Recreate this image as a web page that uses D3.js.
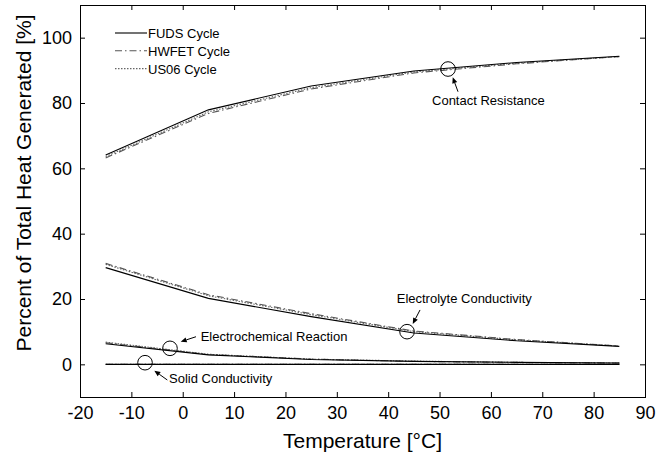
<!DOCTYPE html>
<html>
<head>
<meta charset="utf-8">
<script src="https://cdn.jsdelivr.net/npm/d3@7"></script>
<style>
  html, body { margin: 0; padding: 0; background: #fff; }
  svg { display: block; font-family: "Liberation Sans", Arial, Helvetica, sans-serif; }
</style>
</head>
<body>
<svg id="chart" width="670" height="461"></svg>
<script>
// Temperature samples (°C)
const temperatures = [-15, 5, 25, 45, 65, 85];

// Drive cycles shown in the legend
const cycles = ["FUDS Cycle", "HWFET Cycle", "US06 Cycle"];

// Share of total heat generated [%] per source, one array per cycle
const contactFUDS  = [64.1, 77.9, 85.2, 89.8, 92.4, 94.3];
const contactHWFET = [63.2, 76.8, 84.3, 89.2, 92.0, 94.2];
const contactUS06  = [63.6, 77.3, 84.7, 89.5, 92.2, 94.2];

const electrolyteFUDS  = [29.6, 20.2, 14.6, 9.6, 7.2, 5.5];
const electrolyteHWFET = [30.9, 21.3, 15.5, 10.2, 7.6, 5.6];
const electrolyteUS06  = [30.6, 21.0, 15.2, 10.0, 7.5, 5.6];

const reactionFUDS  = [6.3, 2.9, 1.5, 0.9, 0.6, 0.4];
const reactionHWFET = [6.6, 3.0, 1.6, 0.9, 0.6, 0.4];
const reactionUS06  = [6.8, 3.1, 1.6, 1.0, 0.6, 0.4];

const solidFUDS  = [0, 0, 0, 0, 0, 0];
const solidHWFET = [0, 0, 0, 0, 0, 0];
const solidUS06  = [0, 0, 0, 0, 0, 0];

// Axis ticks
const xTicks = [-20, -10, 0, 10, 20, 30, 40, 50, 60, 70, 80, 90];
const yTicks = [0, 20, 40, 60, 80, 100];

// Labelled heat sources (circled point in data units)
const annotationLabels = ["Contact Resistance", "Electrolyte Conductivity", "Electrochemical Reaction", "Solid Conductivity"];
const annotationX = [51.65, 43.67, -2.48, -7.34];
const annotationY = [90.4, 10.0, 4.9, 0.5];

// ---- drawing ----
const svg = d3.select("#chart");
const margin = { left: 80, right: 25, top: 5, bottom: 64 };
const W = 670, H = 461;

const x = d3.scaleLinear().domain([-20, 90]).range([margin.left, W - margin.right]);
const y = d3.scaleLinear().domain([-10, 110]).range([H - margin.bottom, margin.top]);

const cycleStyles = [
  { stroke: "#000", dash: null, width: 1.1 },
  { stroke: "#555", dash: "7,3,1.5,3", width: 1.1 },
  { stroke: "#666", dash: "1.5,1.5", width: 1.1 }
];

const seriesByCycle = [
  [contactFUDS, electrolyteFUDS, reactionFUDS, solidFUDS],
  [contactHWFET, electrolyteHWFET, reactionHWFET, solidHWFET],
  [contactUS06, electrolyteUS06, reactionUS06, solidUS06]
];

const line = d3.line()
  .x((d, i) => x(temperatures[i]))
  .y(d => y(d));

// Curves: draw lighter styles first, solid on top
[2, 1, 0].forEach(ci => {
  seriesByCycle[ci].forEach(values => {
    svg.append("path")
      .datum(values)
      .attr("d", line)
      .attr("fill", "none")
      .attr("stroke", cycleStyles[ci].stroke)
      .attr("stroke-width", cycleStyles[ci].width)
      .attr("stroke-dasharray", cycleStyles[ci].dash);
  });
});

// Axes: ticks pointing inward on all four sides, plain hyphen for negatives
const tickLen = 5;
const plain = d => String(d);
const bottomAxis = d3.axisBottom(x).tickValues(xTicks).tickFormat(plain).tickSizeInner(-tickLen).tickSizeOuter(0).tickPadding(9);
const topAxis = d3.axisTop(x).tickValues(xTicks).tickSizeInner(-tickLen).tickSizeOuter(0).tickFormat("");
const leftAxis = d3.axisLeft(y).tickValues(yTicks).tickFormat(plain).tickSizeInner(-tickLen).tickSizeOuter(0).tickPadding(8);
const rightAxis = d3.axisRight(y).tickValues(yTicks).tickSizeInner(-tickLen).tickSizeOuter(0).tickFormat("");

function styleAxis(g) {
  g.select(".domain").remove();
  g.selectAll(".tick line").attr("stroke", "#000").attr("stroke-width", 1);
  g.selectAll(".tick text").attr("fill", "#000").style("font-size", "18px")
    .style("font-family", "'Liberation Sans', Arial, sans-serif");
}

svg.append("g").attr("transform", `translate(0,${y(-10)})`).call(bottomAxis).call(styleAxis);
svg.append("g").attr("transform", `translate(0,${y(110)})`).call(topAxis).call(styleAxis);
svg.append("g").attr("transform", `translate(${x(-20)},0)`).call(leftAxis).call(styleAxis);
svg.append("g").attr("transform", `translate(${x(90)},0)`).call(rightAxis).call(styleAxis);

// Plot frame
svg.append("rect")
  .attr("x", x(-20) + 0.5).attr("y", y(110) + 0.5)
  .attr("width", x(90) - x(-20)).attr("height", y(-10) - y(110))
  .attr("fill", "none").attr("stroke", "#000").attr("stroke-width", 1);

// Axis titles
svg.append("text")
  .attr("x", (x(-20) + x(90)) / 2).attr("y", 448)
  .attr("text-anchor", "middle")
  .style("font-size", "21px")
  .text("Temperature [°C]");

svg.append("text")
  .attr("transform", `translate(31,${(y(-10) + y(110)) / 2 - 18}) rotate(-90)`)
  .attr("text-anchor", "middle")
  .style("font-size", "21px")
  .text("Percent of Total Heat Generated [%]");

// Legend
const legend = svg.append("g").attr("transform", "translate(115,33)");
cycles.forEach((name, i) => {
  const row = legend.append("g").attr("transform", `translate(0,${i * 17.8})`);
  row.append("line")
    .attr("x1", 0).attr("x2", 32).attr("y1", 0).attr("y2", 0)
    .attr("stroke", cycleStyles[i].stroke)
    .attr("stroke-width", cycleStyles[i].width)
    .attr("stroke-dasharray", cycleStyles[i].dash);
  row.append("text")
    .attr("x", 33).attr("y", 5)
    .style("font-size", "13px")
    .text(name);
});

// Annotation layout: text anchor and arrow tail/head, offsets from the circle centre in px
const annotationLayout = [
  { tx: -16, ty: 36, ax1: 10, ay1: 22.7, ax2: 4.7, ay2: 8.3 },
  { tx: -10.3, ty: -29, ax1: 13, ay1: -21.7, ax2: 5.7, ay2: -7.7 },
  { tx: 30.7, ty: -7.6, ax1: 26, ay1: -11.6, ax2: 10.7, ay2: -6.6 },
  { tx: 24, ty: 20.6, ax1: 22.3, ay1: 17.3, ax2: 9.3, ay2: 8 }
];

annotationLabels.forEach((label, i) => {
  const cx = x(annotationX[i]), cy = y(annotationY[i]);
  const L = annotationLayout[i];
  svg.append("circle")
    .attr("cx", cx).attr("cy", cy).attr("r", 7.3)
    .attr("fill", "none").attr("stroke", "#000").attr("stroke-width", 1);

  const x1 = cx + L.ax1, y1 = cy + L.ay1, x2 = cx + L.ax2, y2 = cy + L.ay2;
  const ang = Math.atan2(y2 - y1, x2 - x1);
  const headLen = 6, headHalf = 2.6;
  const bx = x2 - headLen * Math.cos(ang), by = y2 - headLen * Math.sin(ang);
  svg.append("line")
    .attr("x1", x1).attr("y1", y1).attr("x2", bx).attr("y2", by)
    .attr("stroke", "#000").attr("stroke-width", 1);
  svg.append("path")
    .attr("d", d3.line()([
      [x2, y2],
      [bx + headHalf * Math.sin(ang), by - headHalf * Math.cos(ang)],
      [bx - headHalf * Math.sin(ang), by + headHalf * Math.cos(ang)]
    ]) + "Z")
    .attr("fill", "#000");

  svg.append("text")
    .attr("x", cx + L.tx).attr("y", cy + L.ty)
    .style("font-size", "13px")
    .text(label);
});
</script>
</body>
</html>
